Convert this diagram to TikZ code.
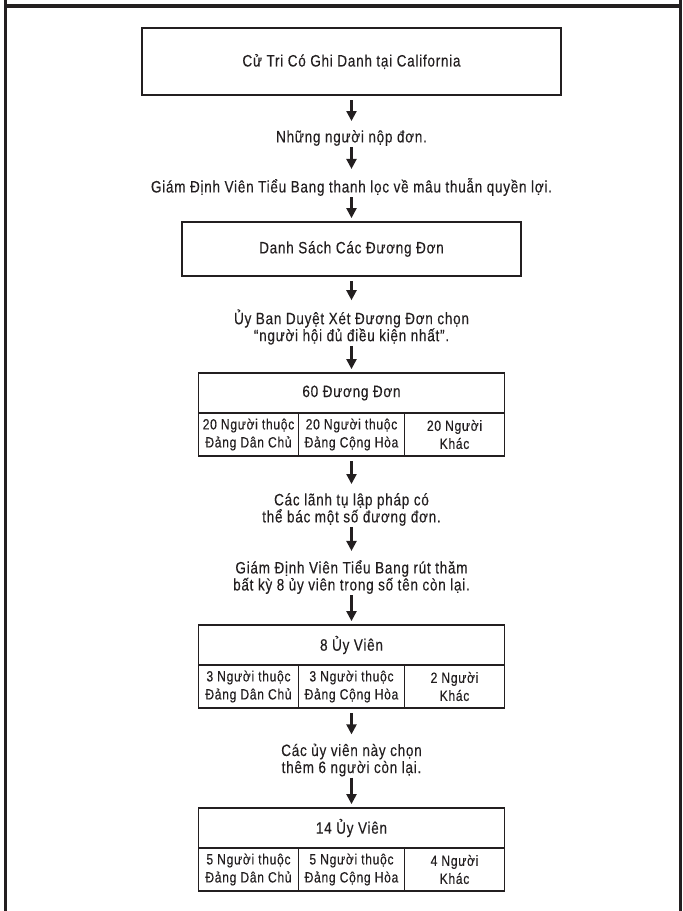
\documentclass[tikz,border=0pt]{standalone}
\usepackage{fontspec}
\setmainfont{Liberation Sans}[FakeStretch=0.82,LetterSpace=4.5,FakeBold=0.25]
\usetikzlibrary{arrows.meta}
\definecolor{ink}{HTML}{231F20}
\begin{document}
\begin{tikzpicture}[x=1pt,y=-1pt,
  box/.style={draw=ink, line width=1.8pt, inner sep=0pt, align=center, text=ink, font=\fontsize{16.5}{17}\selectfont},
  cell/.style={box, minimum height=43pt, font=\fontsize{14.8}{18}\selectfont},
  head/.style={box, minimum width=306pt, minimum height=40pt},
  lbl/.style={inner sep=0pt, align=center, text=ink, font=\fontsize{16.5}{17}\selectfont},
  arr/.style={draw=ink, line width=2.2pt, -{Triangle[length=10pt,width=10pt]}},
  fromlbl/.style={arr, shorten <=1pt},
  frombox/.style={arr, shorten <=4.5pt},
  tolbl/.style={shorten >=9pt},
  tobox/.style={shorten >=3pt},
  frame/.style={draw=ink}
]
\useasboundingbox (0,0) rectangle (683,911);
% outer frame
\draw[frame, line width=3pt] (5.5,0) -- (5.5,911);
\draw[frame, line width=3pt] (680.5,0) -- (680.5,911);
\draw[frame, line width=4.5pt] (4,6) -- (682,6);

% boxes and labels
\node[box, minimum width=419pt, minimum height=67pt] (b1) at (351.5,61.5) {Cử Tri Có Ghi Danh tại California};
\node[lbl] (l1) at (351.5,138) {Những người nộp đơn.};
\node[lbl] (l2) at (351.5,187) {Giám Định Viên Tiểu Bang thanh lọc về mâu thuẫn quyền lợi.};
\node[box, minimum width=339pt, minimum height=54pt] (b2) at (351.5,249) {Danh Sách Các Đương Đơn};
\node[lbl] (l3) at (351.5,327) {Ủy Ban Duyệt Xét Đương Đơn chọn\\“người hội đủ điều kiện nhất”.};

% 60 candidates
\node[head] (h3) at (351.5,393) {60 Đương Đơn};
\node[cell, minimum width=100pt] (c31) at (248.5,434.5) {20 Người thuộc\\Đảng Dân Chủ};
\node[cell, minimum width=106pt] (c32) at (351.5,434.5) {20 Người thuộc\\Đảng Cộng Hòa};
\node[cell, minimum width=100pt] (c33) at (454.5,434.5) {20 Người\\Khác};

\node[lbl] (l4) at (351.5,509.5) {Các lãnh tụ lập pháp có\\thể bác một số đương đơn.};
\node[lbl] (l5) at (351.5,577) {Giám Định Viên Tiểu Bang rút thăm\\bất kỳ 8 ủy viên trong số tên còn lại.};

% 8 commissioners
\node[head] (h8) at (351.5,645) {8 Ủy Viên};
\node[cell, minimum width=100pt] (c81) at (248.5,686.5) {3 Người thuộc\\Đảng Dân Chủ};
\node[cell, minimum width=106pt] (c82) at (351.5,686.5) {3 Người thuộc\\Đảng Cộng Hòa};
\node[cell, minimum width=100pt] (c83) at (454.5,686.5) {2 Người\\Khác};

\node[lbl] (l6) at (351.5,760) {Các ủy viên này chọn\\thêm 6 người còn lại.};

% 14 commissioners
\node[head] (h14) at (351.5,828) {14 Ủy Viên};
\node[cell, minimum width=100pt] (c141) at (248.5,869.5) {5 Người thuộc\\Đảng Dân Chủ};
\node[cell, minimum width=106pt] (c142) at (351.5,869.5) {5 Người thuộc\\Đảng Cộng Hòa};
\node[cell, minimum width=100pt] (c143) at (454.5,869.5) {4 Người\\Khác};

% arrows
\draw[frombox, tolbl] (b1) -- (l1);
\draw[fromlbl, tolbl] (l1) -- (l2);
\draw[fromlbl, tobox] (l2) -- (b2);
\draw[frombox, tolbl] (b2) -- (l3);
\draw[fromlbl, tobox] (l3) -- (h3);
\draw[frombox, tolbl] (c32) -- (l4);
\draw[fromlbl, tolbl] (l4) -- (l5);
\draw[fromlbl, tobox] (l5) -- (h8);
\draw[frombox, tolbl] (c82) -- (l6);
\draw[fromlbl, tobox] (l6) -- (h14);
\end{tikzpicture}
\end{document}
